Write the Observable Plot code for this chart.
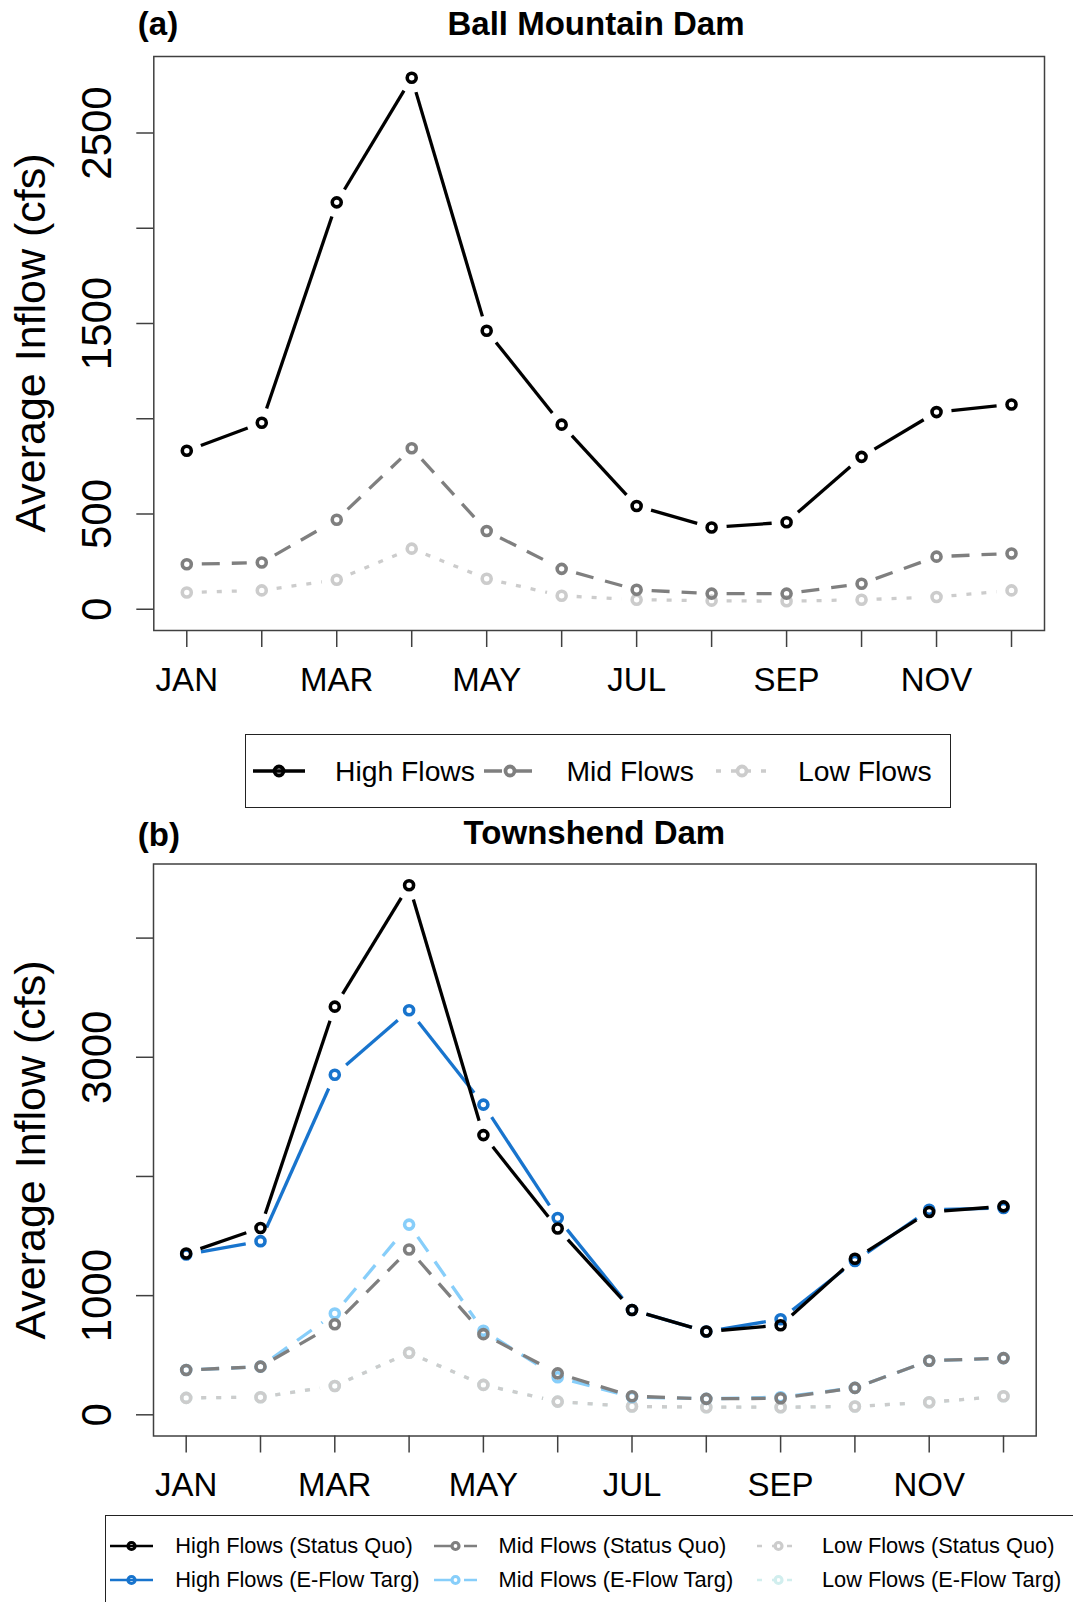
<!DOCTYPE html>
<html><head><meta charset="utf-8">
<script src="https://cdn.jsdelivr.net/npm/d3@7"></script>
<script src="https://cdn.jsdelivr.net/npm/@observablehq/plot@0.6"></script>
<style>
html,body{margin:0;padding:0;background:#fff;overflow:hidden;}
#root{position:relative;width:1073px;height:1602px;overflow:hidden;font-family:"Liberation Sans",Arial,sans-serif;color:#000;background:#fff;}
#root svg.plotsvg{position:absolute;left:0;}
.abs{position:absolute;white-space:nowrap;}
.ttl{font-weight:bold;font-size:33px;line-height:33px;}
.ctr{transform:translateX(-50%);}
.ylab{font-size:43px;line-height:43px;transform:translate(-50%,-50%) rotate(-90deg);}
.legend{position:absolute;border:1.5px solid #222;box-sizing:border-box;background:#fff;}
.item{position:absolute;display:flex;align-items:center;white-space:nowrap;}
</style></head><body><div id="root"></div>
<script>
// ---------- data ----------
const months = ["JAN","FEB","MAR","APR","MAY","JUN","JUL","AUG","SEP","OCT","NOV","DEC"];
const monthNum = [1,2,3,4,5,6,7,8,9,10,11,12];
const xLabelMonths = ["JAN","MAR","MAY","JUL","SEP","NOV"];
const yTicksA = [0,500,1000,1500,2000,2500];
const yLabelsA = [0,500,1500,2500];
const yTicksB = [0,1000,2000,3000,4000];
const yLabelsB = [0,1000,3000];

// Ball Mountain Dam
const ballHigh = [832, 979, 2136, 2790, 1462, 969, 542, 429, 457, 800, 1035, 1075];
const ballMid  = [236, 245, 470, 845, 411, 212, 102, 82, 82, 134, 276, 293];
const ballLow  = [88, 99, 155, 318, 160, 71, 50, 45, 42, 50, 64, 99];

// Townshend Dam
const townHighSQ = [1354, 1568, 3425, 4444, 2347, 1563, 880, 699, 752, 1309, 1702, 1749];
const townHighEF = [1345, 1457, 2853, 3394, 2603, 1652, 880, 699, 802, 1290, 1721, 1735];
const townMidSQ  = [376, 404, 760, 1387, 677, 348, 156, 134, 139, 226, 454, 476];
const townMidEF  = [376, 404, 850, 1596, 705, 315, 150, 134, 148, 226, 454, 476];
const townLowSQ  = [142, 148, 242, 521, 251, 111, 70, 64, 64, 70, 106, 156];
const townLowEF  = [142, 148, 242, 521, 251, 111, 70, 64, 64, 70, 106, 156];

// ---------- styles ----------
const DASH = "18 12", DOT = "5 10";
const seriesA = [
  {name:"High Flows", values: ballHigh, color:"#000000", dash:null},
  {name:"Mid Flows",  values: ballMid,  color:"#7f7f7f", dash:DASH},
  {name:"Low Flows",  values: ballLow,  color:"#cccccc", dash:DOT}
];
const seriesB = [
  {name:"High Flows (Status Quo)",  values: townHighSQ, color:"#000000", dash:null},
  {name:"Mid Flows (Status Quo)",   values: townMidSQ,  color:"#7f7f7f", dash:DASH},
  {name:"Low Flows (Status Quo)",   values: townLowSQ,  color:"#cccccc", dash:DOT},
  {name:"High Flows (E-Flow Targ)", values: townHighEF, color:"#1874CD", dash:null},
  {name:"Mid Flows (E-Flow Targ)",  values: townMidEF,  color:"#87CEFA", dash:DASH},
  {name:"Low Flows (E-Flow Targ)",  values: townLowEF,  color:"#D1EEEE", dash:DOT}
];
const FONT = '"Liberation Sans", Arial, sans-serif';
const AXIS = "#404040";

function seriesMarks(s) {
  const pts = s.values.map((v, i) => ({m: monthNum[i], v}));
  const segs = pts.slice(1).map((p, i) => ({x1: pts[i].m, y1: pts[i].v, x2: p.m, y2: p.v}));
  const o = {x1:"x1", y1:"y1", x2:"x2", y2:"y2", stroke:s.color, strokeWidth:3.3,
             insetStart:15, insetEnd:15, headLength:0, bend:0, strokeLinecap:"butt"};
  if (s.dash) o.strokeDasharray = s.dash;
  return [
    Plot.arrow(segs, o),
    Plot.dot(pts, {x:"m", y:"v", r:4.5, stroke:s.color, strokeWidth:3.6, fill:"none"})
  ];
}

function panel(series, order, yTicks, yLabels, opts) {
  const all = series.flatMap(s => s.values);
  const maxV = d3.max(all);
  const xPad = 0.04 * (monthNum[monthNum.length-1] - monthNum[0]);
  return Plot.plot({
    width: 1073, height: opts.height,
    marginTop: opts.mt, marginBottom: opts.mb, marginLeft: opts.ml, marginRight: opts.mr,
    style: {background:"transparent", fontFamily: FONT, color:"#000", overflow:"visible"},
    x: {type:"linear", domain:[monthNum[0] - xPad, monthNum[monthNum.length-1] + xPad]},
    y: {domain:[-0.04*maxV, 1.04*maxV]},
    marks: [
      Plot.frame({stroke: AXIS, strokeWidth: 1.5}),
      Plot.axisX({ticks: monthNum, tickSize: 17, tickPadding: 20, fontSize: 33,
        tickFormat: d => xLabelMonths.includes(months[d-1]) ? months[d-1] : "",
        stroke: AXIS, strokeWidth: 1.5, fill: "#000", label: null}),
      Plot.axisY({ticks: yTicks, tickSize: 17, tickPadding: 25.5, tickRotate: -90, fontSize: 42,
        tickFormat: d => yLabels.includes(d) ? String(d) : "",
        stroke: AXIS, strokeWidth: 1.5, fill: "#000", label: null}),
      ...order.flatMap(i => seriesMarks(series[i]))
    ]
  });
}

const root = document.getElementById("root");

const svgA = panel(seriesA, [2,1,0], yTicksA, yLabelsA, {height:715, mt:56, mb:85, ml:153.3, mr:29});
svgA.classList.add("plotsvg"); svgA.style.top = "0px";
root.appendChild(svgA);

const svgB = panel(seriesB, [5,2,4,1,3,0], yTicksB, yLabelsB, {height:715, mt:73.5, mb:69.5, ml:153, mr:37.3});
svgB.classList.add("plotsvg"); svgB.style.top = "790px";
root.appendChild(svgB);

function addDiv(cls, text, css) {
  const d = document.createElement("div");
  d.className = "abs " + cls;
  d.textContent = text;
  Object.assign(d.style, css);
  root.appendChild(d);
  return d;
}
addDiv("ttl", "(a)", {left:"137.8px", top:"7px"});
addDiv("ttl ctr", "Ball Mountain Dam", {left:"596px", top:"7px"});
addDiv("ylab", "Average Inflow (cfs)", {left:"30px", top:"343px"});
addDiv("ttl", "(b)", {left:"137.8px", top:"818px"});
addDiv("ttl ctr", "Townshend Dam", {left:"594.4px", top:"816px"});
addDiv("ylab", "Average Inflow (cfs)", {left:"30px", top:"1149.5px"});

function swatch(s, len, sw, r, h) {
  const svg = d3.create("svg").attr("width", len).attr("height", h);
  const line = svg.append("line").attr("x1", 0).attr("x2", len).attr("y1", h/2).attr("y2", h/2)
    .attr("stroke", s.color).attr("stroke-width", sw);
  if (s.dash) line.attr("stroke-dasharray", s.dash);
  svg.append("circle").attr("cx", len/2).attr("cy", h/2).attr("r", r)
    .attr("fill", "none").attr("stroke", s.color).attr("stroke-width", sw + 0.5);
  return svg.node();
}

// legend a
const legA = document.createElement("div");
legA.className = "legend";
Object.assign(legA.style, {left:"245px", top:"734px", width:"706px", height:"74px"});
seriesA.forEach((s, i) => {
  const it = document.createElement("div");
  it.className = "item";
  Object.assign(it.style, {left: (6.5 + i*231.5) + "px", top:"0px", height:"72px"});
  it.appendChild(swatch(s, 52, 3.3, 4.5, 20));
  const t = document.createElement("span");
  t.textContent = s.name;
  Object.assign(t.style, {fontSize:"28.3px", marginLeft:"30.5px"});
  it.appendChild(t);
  legA.appendChild(it);
});
root.appendChild(legA);

// legend b
const legB = document.createElement("div");
legB.className = "legend";
Object.assign(legB.style, {left:"105px", top:"1515px", width:"1000px", height:"120px"});
seriesB.forEach((s, i) => {
  const row = Math.floor(i / 3), col = i % 3;
  const it = document.createElement("div");
  it.className = "item";
  Object.assign(it.style, {left: (4.3 + col*323.3) + "px", top: (30 + row*33.5 - 15) + "px", height:"30px"});
  it.appendChild(swatch(s, 43, 2.7, 3.5, 16));
  const t = document.createElement("span");
  t.textContent = s.name;
  Object.assign(t.style, {fontSize:"21.8px", marginLeft:"22px"});
  it.appendChild(t);
  legB.appendChild(it);
});
root.appendChild(legB);
</script></body></html>
